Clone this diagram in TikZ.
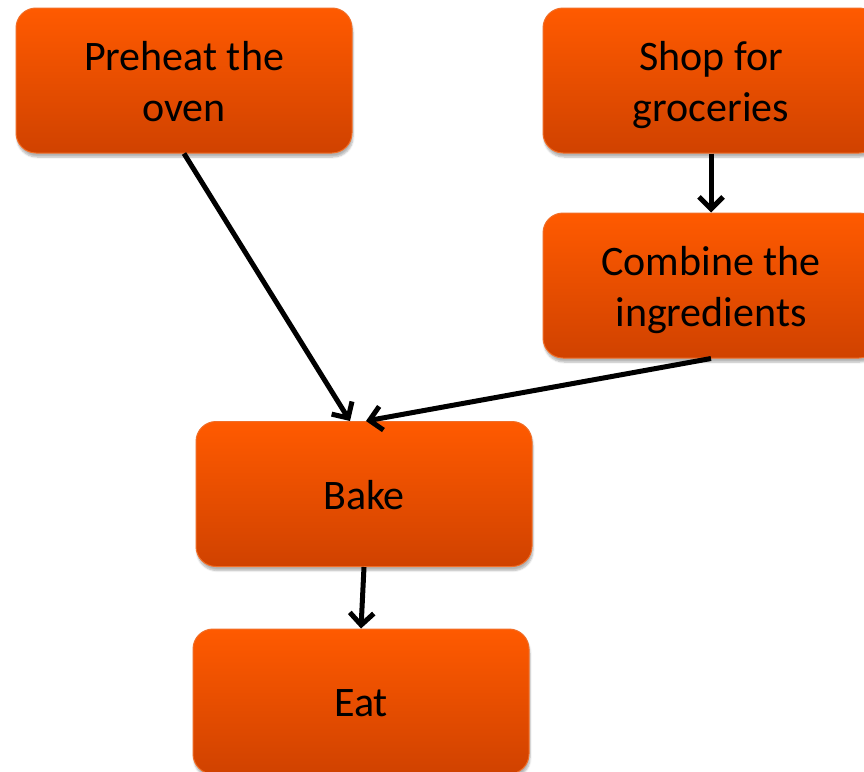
\documentclass[tikz,border=0pt]{standalone}
\usepackage{fontspec}
\setmainfont{Carlito}
\usetikzlibrary{arrows.meta,shadows.blur}
\definecolor{boxtop}{RGB}{255,90,0}
\definecolor{boxbot}{RGB}{208,66,0}
\definecolor{boxedge}{RGB}{240,110,40}
\newcommand\bxstrut{\rule[-10.5pt]{0pt}{51pt}}
\tikzset{
  stepbox/.style={rectangle, rounded corners=20pt, minimum width=336pt, minimum height=145pt,
    top color=boxtop, bottom color=boxbot, draw=boxedge, line width=1pt,
    blur shadow={shadow blur steps=6, shadow xshift=1pt, shadow yshift=-4pt, shadow opacity=30},
    align=center, inner sep=0pt, font=\fontsize{42pt}{51pt}\selectfont, text=black},
  conn/.style={line width=5pt, -{Straight Barb[length=12pt,width=24pt]}, black}
}
\begin{document}
\begin{tikzpicture}[x=1pt,y=-1pt]
\useasboundingbox (0,0) rectangle (864,771);
\node[stepbox] (pre) at (184,80.5) {\bxstrut Preheat the\\\bxstrut oven};
\node[stepbox] (shop) at (711,80.5) {\bxstrut Shop for\\\bxstrut groceries};
\node[stepbox] (comb) at (711,285.5) {\bxstrut Combine the\\\bxstrut ingredients};
\node[stepbox] (bake) at (364,494) {\bxstrut Bake};
\node[stepbox] (eat) at (361,701.5) {\bxstrut Eat};
\draw[conn] (pre.south) -- ([xshift=-14pt]bake.north);
\draw[conn] (shop.south) -- (comb.north);
\draw[conn] (comb.south) -- ([xshift=2pt]bake.north);
\draw[conn] (bake.south) -- (eat.north);
\end{tikzpicture}
\end{document}
